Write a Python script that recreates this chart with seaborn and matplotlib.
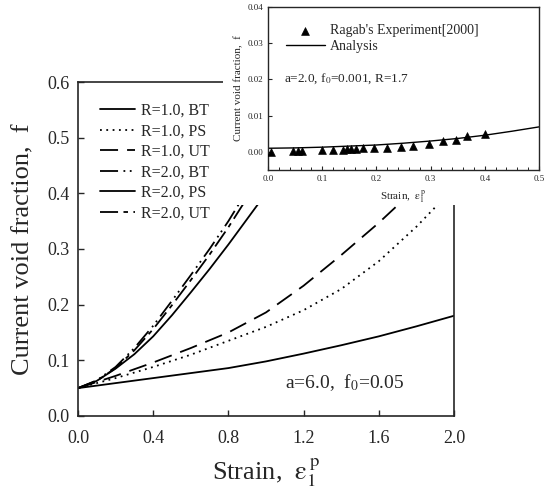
import numpy as np
import pandas as pd
import matplotlib
matplotlib.use('Agg')
import matplotlib.pyplot as plt
import seaborn as sns
from matplotlib.patches import Rectangle
from matplotlib.lines import Line2D
from matplotlib.ticker import MultipleLocator, FormatStrFormatter

# ------------------------------------------------------------
# data
# ------------------------------------------------------------
strain_r1 = [0.0, 0.2, 0.4, 0.6, 0.8, 1.0, 1.2, 1.4, 1.6, 1.8, 2.0]
f_r1_bt = [0.050, 0.059, 0.068, 0.077, 0.086, 0.098, 0.112, 0.127, 0.143, 0.161, 0.180]
f_r1_ps = [0.050, 0.068, 0.088, 0.110, 0.135, 0.160, 0.190, 0.228, 0.278, 0.340, 0.410]
f_r1_ut = [0.050, 0.072, 0.096, 0.122, 0.150, 0.186, 0.234, 0.289, 0.347, 0.410, 0.480]

strain_r2 = [0.0, 0.1, 0.2, 0.3, 0.4, 0.5, 0.6, 0.7, 0.8, 0.9, 1.0, 1.1]
f_r2_bt = [0.050, 0.064, 0.088, 0.122, 0.162, 0.207, 0.253, 0.300, 0.350, 0.405, 0.460, 0.520]
f_r2_ps = [0.050, 0.063, 0.085, 0.111, 0.143, 0.181, 0.222, 0.264, 0.308, 0.354, 0.400, 0.450]
f_r2_ut = [0.050, 0.063, 0.086, 0.118, 0.156, 0.199, 0.244, 0.290, 0.339, 0.392, 0.447, 0.505]

# inset: Ragab's experiment + analysis
exp_strain = [0.006, 0.047, 0.056, 0.062, 0.099, 0.120, 0.139, 0.145, 0.154, 0.163,
              0.175, 0.195, 0.220, 0.245, 0.268, 0.297, 0.323, 0.347, 0.367, 0.400]
exp_f = [0.0000, 0.0002, 0.0002, 0.0002, 0.0004, 0.0005, 0.0006, 0.0007, 0.0008, 0.0009,
         0.0010, 0.0011, 0.0012, 0.0014, 0.0017, 0.0021, 0.0029, 0.0033, 0.0043, 0.0048]
ana_strain = [0.0, 0.05, 0.1, 0.15, 0.2, 0.25, 0.3, 0.35, 0.4, 0.45, 0.5]
ana_f = [0.0010, 0.0011, 0.0013, 0.0016, 0.0019, 0.0024, 0.0030, 0.0037, 0.0046, 0.0057, 0.0069]

series = [
    ('R=1.0, BT', strain_r1, f_r1_bt, '-'),
    ('R=1.0, PS', strain_r1, f_r1_ps, (0, (1, 2.5))),
    ('R=1.0, UT', strain_r1, f_r1_ut, (0, (10, 5))),
    ('R=2.0, BT', strain_r2, f_r2_bt, (0, (10, 3, 1, 2.5, 1, 3))),
    ('R=2.0, PS', strain_r2, f_r2_ps, '-'),
    ('R=2.0, UT', strain_r2, f_r2_ut, (0, (10, 3, 2.5, 3))),
]

# ------------------------------------------------------------
# style
# ------------------------------------------------------------
sns.set_style('ticks')
plt.rcParams['font.family'] = ['Liberation Serif', 'DejaVu Serif']
plt.rcParams['mathtext.fontset'] = 'stix'
plt.rcParams['xtick.direction'] = 'in'
plt.rcParams['ytick.direction'] = 'in'

XLAB = r'Strain,  $\mathrm{\varepsilon_1^{\,p}}$'

fig = plt.figure(figsize=(5.53, 4.94), dpi=100)
ax = fig.add_axes([0.141, 0.158, 0.680, 0.676])

handles = []
for label, xs, ys, ls in series:
    df = pd.DataFrame({'strain': xs, 'f': ys})
    sns.lineplot(data=df, x='strain', y='f', ax=ax, color='black', lw=1.3, linestyle=ls)
    handles.append((Line2D([], [], color='black', lw=1.3, linestyle=ls), label))

ax.set_xlim(0, 2.0)
ax.set_ylim(0, 0.6)
ax.xaxis.set_major_locator(MultipleLocator(0.4))
ax.yaxis.set_major_locator(MultipleLocator(0.1))
ax.xaxis.set_major_formatter(FormatStrFormatter('%.1f'))
ax.yaxis.set_major_formatter(FormatStrFormatter('%.1f'))
ax.tick_params(labelsize=13, length=4, width=1)
ax.tick_params(axis='x', pad=10)
ax.tick_params(axis='y', pad=6)
for sp in ax.spines.values():
    sp.set_linewidth(1.2)
ax.set_xlabel(XLAB, fontsize=19, labelpad=7)
ax.set_ylabel('Current void fraction,  f', fontsize=19, labelpad=9)
ax.text(1.10, 0.05, r'a=6.0,  f$_0$=0.05', fontsize=14)

ax.legend([h for h, _ in handles], [l for _, l in handles],
          loc='upper left', bbox_to_anchor=(0.02, 0.98), frameon=False,
          fontsize=11.5, handlelength=2.2, handletextpad=0.4, labelspacing=0.28)

# white patch that hides the main plot behind the inset
fig.patches.append(Rectangle((0.403, 0.585), 0.6, 0.42, transform=fig.transFigure,
                             facecolor='white', edgecolor='none', zorder=1))

# ------------------------------------------------------------
# inset
# ------------------------------------------------------------
ax2 = fig.add_axes([0.4846, 0.6559, 0.4901, 0.3299], zorder=2)
ax2.set_facecolor('white')
df_exp = pd.DataFrame({'strain': exp_strain, 'f': exp_f})
df_ana = pd.DataFrame({'strain': ana_strain, 'f': ana_f})
sns.scatterplot(data=df_exp, x='strain', y='f', ax=ax2, marker='^', color='black',
                s=32, edgecolor='black', label="Ragab's Experiment[2000]", zorder=3)
sns.lineplot(data=df_ana, x='strain', y='f', ax=ax2, color='black', lw=1.0, label='Analysis')
ax2.set_xlim(0, 0.5)
ax2.set_ylim(-0.005, 0.04)
ax2.xaxis.set_major_locator(MultipleLocator(0.1))
ax2.xaxis.set_minor_locator(MultipleLocator(0.02))
ax2.yaxis.set_major_locator(MultipleLocator(0.01))
ax2.xaxis.set_major_formatter(FormatStrFormatter('%.1f'))
ax2.yaxis.set_major_formatter(FormatStrFormatter('%.2f'))
ax2.tick_params(labelsize=6.5, length=3, width=0.8)
ax2.tick_params(which='minor', length=2, width=0.7)
for sp in ax2.spines.values():
    sp.set_linewidth(1.0)
ax2.set_xlabel(XLAB, fontsize=8, labelpad=4)
ax2.set_ylabel('Current void fraction,  f', fontsize=8, labelpad=3)
ax2.text(0.03, 0.0195, r'a=2.0, f$_0$=0.001, R=1.7', fontsize=9.5)
ax2.legend(loc='upper left', bbox_to_anchor=(0.02, 0.97), frameon=False, fontsize=10,
           handlelength=2.8, handletextpad=0.4, labelspacing=0.2)

fig.savefig('out.png', dpi=100)
